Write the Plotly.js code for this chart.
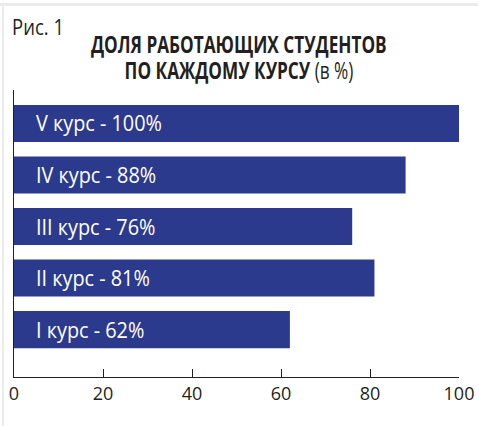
<!DOCTYPE html>
<html>
<head>
<meta charset="utf-8">
<script src="https://cdn.plot.ly/plotly-3.0.1.min.js"></script>
<style>
  html, body { margin: 0; padding: 0; background: #fff; }
  #wrap { position: relative; width: 479px; height: 426px; overflow: hidden; }
  #chart { width: 479px; height: 426px; }
  #frameTop { position: absolute; left: 0; top: 3px; width: 478px; height: 3px; background: #ebebeb; }
  #frameLeft { position: absolute; left: 2px; top: 3px; width: 2px; height: 423px; background: #ebebeb; }
</style>
</head>
<body>
<div id="wrap">
  <div id="chart"></div>
  <div id="frameTop"></div>
  <div id="frameLeft"></div>
</div>
<script>
// Data
const courses = ["I курс", "II курс", "III курс", "IV курс", "V курс"];
const shares = [62, 81, 76, 88, 100];
const xTicks = [0, 20, 40, 60, 80, 100];
const figLabel = "Рис. 1";
const titleLine1 = "ДОЛЯ РАБОТАЮЩИХ СТУДЕНТОВ";
const titleLine2 = "ПО КАЖДОМУ КУРСУ";
const titleUnit = "(в %)";

const positions = courses.map((_, i) => i);
const labels = courses.map((c, i) => c + " - " + shares[i] + "%");

const barColor = "#2c3a8d";
const textFont = "Open Sans, Noto Sans, sans-serif";
const ink = "#231f20";

const trace = {
  type: "bar",
  orientation: "h",
  x: shares,
  y: positions,
  width: 0.72,
  marker: { color: barColor, line: { width: 0 } },
  hoverinfo: "none",
  showlegend: false
};

const annotations = labels.map((t, i) => ({
  x: 0, y: positions[i], xref: "x", yref: "y",
  text: t, showarrow: false, xanchor: "left", yanchor: "middle",
  xshift: 20,
  font: { family: textFont, size: 21, color: "#ffffff" }
}));

annotations.push({
  xref: "paper", yref: "paper", x: 0, y: 1, yanchor: "middle", xanchor: "left",
  xshift: -4, yshift: 63,
  text: figLabel, showarrow: false,
  font: { family: textFont, size: 21, color: ink }
});
annotations.push({
  xref: "paper", yref: "paper", x: 0.505, y: 1, yanchor: "middle", xanchor: "center",
  yshift: 46,
  text: "<b>" + titleLine1 + "</b>",
  showarrow: false,
  font: { family: textFont, size: 23, color: ink }
});
annotations.push({
  xref: "paper", yref: "paper", x: 0.505, y: 1, yanchor: "middle", xanchor: "center",
  yshift: 20,
  text: "<b>" + titleLine2 + "</b> <span style='font-weight:normal'>" + titleUnit + "</span>",
  showarrow: false,
  font: { family: textFont, size: 23, color: ink }
});

const layout = {
  width: 479, height: 426,
  margin: { l: 14, r: 20, t: 90, b: 49, pad: 0 },
  paper_bgcolor: "#ffffff",
  plot_bgcolor: "#ffffff",
  xaxis: {
    range: [0, 100],
    tickvals: xTicks,
    ticktext: xTicks.map(String),
    ticks: "inside", ticklen: 8, tickcolor: ink, tickwidth: 1,
    showline: true, linecolor: ink, linewidth: 1,
    showgrid: false, zeroline: false,
    tickfont: { family: textFont, size: 18, color: ink },
    fixedrange: true
  },
  yaxis: {
    range: [-0.92, 4.65],
    showticklabels: false, ticks: "",
    showline: true, linecolor: ink, linewidth: 1,
    showgrid: false, zeroline: false,
    fixedrange: true
  },
  annotations: annotations
};

// Horizontal condensing to mimic the narrow typeface of the original
function squeeze() {
  const texts = Array.from(document.querySelectorAll("#chart .annotation-text"));
  const find = pred => texts.filter(el => pred(el.textContent));
  const apply = (els, s, origin) => els.forEach(el => {
    el.style.transformBox = "fill-box";
    el.style.transformOrigin = origin;
    el.style.transform = "scaleX(" + s + ")";
  });
  const barLabels = find(t => t.indexOf("курс -") >= 0);
  const vLabel = find(t => t === labels[labels.length - 1])[0];
  if (vLabel) apply(barLabels, 126 / vLabel.getBBox().width, "left center");
  const t1 = find(t => t === titleLine1);
  const t2 = find(t => t.indexOf(titleLine2) === 0);
  if (t1[0]) apply(t1.concat(t2), 296 / t1[0].getBBox().width, "center center");
  const fig = find(t => t === figLabel);
  if (fig[0]) apply(fig, 52 / fig[0].getBBox().width, "left center");
}

Plotly.newPlot("chart", [trace], layout, { staticPlot: true, displayModeBar: false }).then(squeeze);
</script>
</body>
</html>
